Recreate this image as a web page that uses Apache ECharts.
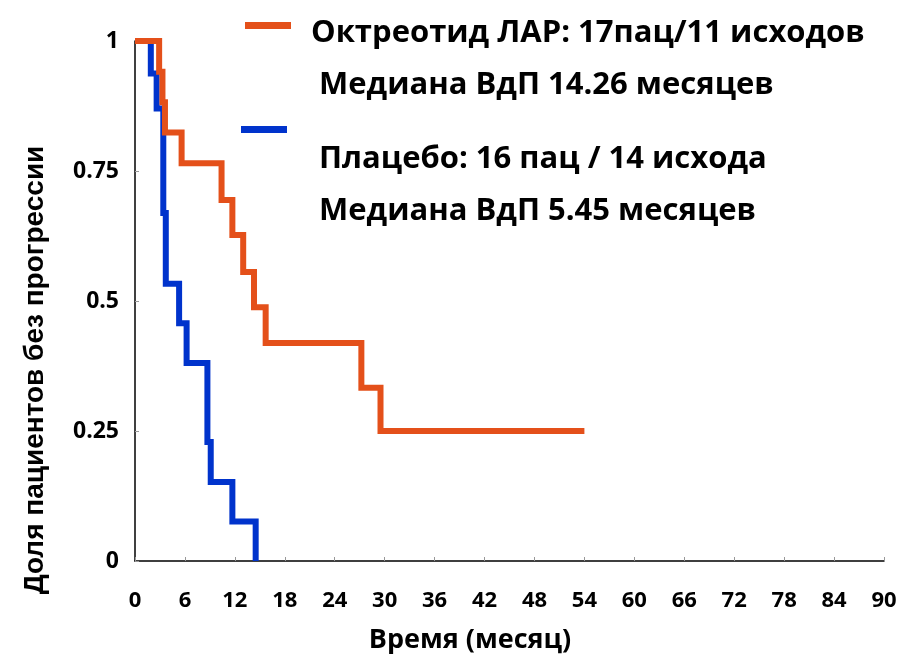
<!DOCTYPE html>
<html>
<head>
<meta charset="utf-8">
<script src="https://cdn.jsdelivr.net/npm/echarts@6/dist/echarts.min.js"></script>
<style>
html,body{margin:0;padding:0;background:#fff;}
#chart{width:902px;height:660px;}
</style>
</head>
<body>
<div id="chart"></div>
<script>
// Kaplan-Meier step points [month, proportion]
var octreotideX = [0, 2.9, 3.3, 3.6, 5.6, 10.4, 11.7, 13.0, 14.3, 15.7, 27.2, 29.5, 54];
var octreotideY = [1, 0.941, 0.882, 0.824, 0.765, 0.694, 0.627, 0.556, 0.488, 0.419, 0.333, 0.25, 0.25];
var placeboX = [0, 1.9, 2.6, 3.4, 3.7, 5.3, 6.2, 8.7, 9.1, 11.7, 14.5];
var placeboY = [1, 0.9375, 0.87, 0.669, 0.533, 0.457, 0.381, 0.229, 0.152, 0.076, 0];
var xTicks = [0, 6, 12, 18, 24, 30, 36, 42, 48, 54, 60, 66, 72, 78, 84, 90];
var yTicks = [0, 0.25, 0.5, 0.75, 1];
var legendLines = [
  'Октреотид ЛАР: 17пац/11 исходов',
  'Медиана ВдП 14.26 месяцев',
  'Плацебо: 16 пац / 14 исхода',
  'Медиана ВдП 5.45 месяцев'
];
var xAxisTitle = 'Время (месяц)';
var yAxisTitle = 'Доля пациентов без прогрессии';

function pairs(xs, ys){ return xs.map(function(x,i){ return [x, ys[i]]; }); }

var ORANGE = '#E4501A', BLUE = '#0033CC';
var NUMFONT = "'Open Sans', 'Liberation Sans', sans-serif";

var chart = echarts.init(document.getElementById('chart'), null, {renderer:'canvas'});
chart.setOption({
  animation: false,
  backgroundColor: '#ffffff',
  grid: {left: 135, right: 18, top: 41, bottom: 99, containLabel: false},
  xAxis: {
    type: 'value', min: 0, max: 90, interval: 6,
    axisLine: {show: true, lineStyle: {color: '#000', width: 1.5}},
    axisTick: {show: true, inside: true, length: 4, lineStyle: {color: '#999', width: 1}},
    splitLine: {show: false},
    axisLabel: {
      margin: 29, color: '#000', fontFamily: NUMFONT, fontWeight: 'bold', fontSize: 22,
      formatter: function(v){ return xTicks.indexOf(v) >= 0 ? String(v) : ''; }
    }
  },
  yAxis: {
    type: 'value', min: 0, max: 1, interval: 0.25,
    axisLine: {show: true, lineStyle: {color: '#000', width: 1.5}},
    axisTick: {show: true, inside: true, length: 4, lineStyle: {color: '#999', width: 1}},
    splitLine: {show: false},
    axisLabel: {
      margin: 16, color: '#000', fontFamily: NUMFONT, fontWeight: 'bold', fontSize: 23,
      formatter: function(v){ return yTicks.indexOf(v) >= 0 ? String(v) : ''; }
    }
  },
  series: [
    {
      name: legendLines[0], type: 'line', step: 'end', symbol: 'none',
      data: pairs(octreotideX, octreotideY),
      lineStyle: {color: ORANGE, width: 6, join: 'miter'}, z: 3
    },
    {
      name: legendLines[2], type: 'line', step: 'end', symbol: 'none',
      data: pairs(placeboX, placeboY),
      lineStyle: {color: BLUE, width: 6, join: 'miter'}, z: 2
    }
  ],
  graphic: [
    {type: 'rect', left: 245, top: 22, shape: {width: 46, height: 7}, style: {fill: ORANGE}},
    {type: 'text', left: 311, top: 18, style: {text: legendLines[0], fill: '#000', font: "bold 31px " + NUMFONT}},
    {type: 'text', left: 319, top: 70, style: {text: legendLines[1], fill: '#000', font: "bold 31px " + NUMFONT}},
    {type: 'rect', left: 241, top: 126, shape: {width: 46, height: 7}, style: {fill: BLUE}},
    {type: 'text', left: 319, top: 144, style: {text: legendLines[2], fill: '#000', font: "bold 31px " + NUMFONT}},
    {type: 'text', left: 319, top: 196, style: {text: legendLines[3], fill: '#000', font: "bold 31px " + NUMFONT}},
    {type: 'text', x: 470, y: 640, style: {text: xAxisTitle, fill: '#000', font: "bold 27px " + NUMFONT, textAlign: 'center', textVerticalAlign: 'middle'}},
    {type: 'text', x: 35, y: 370, rotation: Math.PI/2, style: {text: yAxisTitle, fill: '#000', font: "bold 28px 'Liberation Sans', Arial, sans-serif", textAlign: 'center', textVerticalAlign: 'middle'}}
  ]
});
</script>
</body>
</html>
